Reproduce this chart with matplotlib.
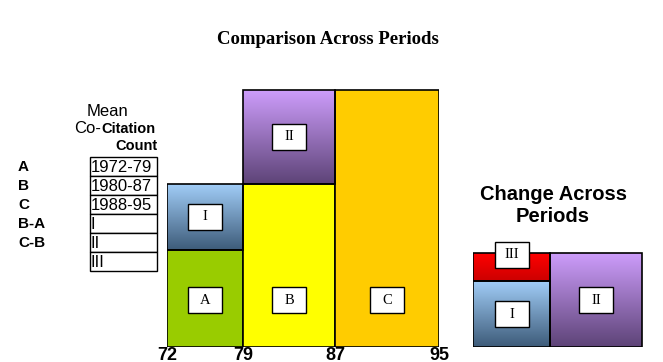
import matplotlib.pyplot as plt
import matplotlib.colors as mcolors
from matplotlib.patches import Rectangle
import numpy as np

# data
period_codes = ["A", "B", "C"]
period_years = ["1972-79", "1980-87", "1988-95"]
boundary_years = ["72", "79", "87", "95"]
mean_count = [97, 163, 257]          # A, B, C
change_codes = ["I", "II", "III"]    # B-A, C-B, II-I
legend_codes = ["A", "B", "C", "B-A", "C-B"]

# layout (pixels == data units)
W, H, DPI = 663, 362, 100
bar_w = [76, 92, 104]
base_px = 347
top_units = 260

SERIF = ["Liberation Serif", "DejaVu Serif"]
SANS = ["Liberation Sans", "DejaVu Sans"]


def grad_rect(ax, x0, x1, y0, y1, top, bottom):
    cmap = mcolors.LinearSegmentedColormap.from_list("g", [bottom, top])
    grad = np.linspace(1, 0, 64).reshape(-1, 1)
    ax.imshow(grad, cmap=cmap, extent=(x0, x1, y0, y1), aspect="auto",
              interpolation="bilinear", zorder=1)
    ax.add_patch(Rectangle((x0, y0), x1 - x0, y1 - y0, fill=False,
                           ec="black", lw=1.2, zorder=2))


def label_box(ax, x, y, s):
    ax.add_patch(Rectangle((x - 17, y - 13), 34, 26, fc="white", ec="black",
                           lw=1, zorder=3))
    ax.text(x, y, s, ha="center", va="center", family=SERIF, fontsize=10.5,
            zorder=4)


def make_ax(fig, left_px, width_px):
    ax = fig.add_axes([left_px / W, (H - base_px) / H, width_px / W,
                       top_units / H])
    ax.set_xlim(0, width_px)
    ax.set_ylim(0, top_units)
    ax.axis("off")
    return ax


def draw_main(fig):
    ax = make_ax(fig, 167, sum(bar_w))
    edges = np.concatenate([[0], np.cumsum(bar_w)])
    lefts = edges[:-1]
    cent = lefts + np.array(bar_w) / 2
    a, b, c = mean_count

    ax.bar(lefts, mean_count, width=bar_w, align="edge",
           color=["#99CC00", "#FFFF00", "#FFCC00"], edgecolor="black",
           lw=1.2, zorder=1.5)
    grad_rect(ax, edges[0], edges[1], a, b, "#A0CCF6", "#3E5C7A")
    grad_rect(ax, edges[1], edges[2], b, c, "#CC9CFA", "#5E4478")

    for x, s in zip(cent, period_codes):
        label_box(ax, x, 47, s)
    label_box(ax, cent[0], (a + b) / 2, change_codes[0])
    label_box(ax, cent[1], (b + c) / 2, change_codes[1])

    for x, s in zip(edges, boundary_years):
        ax.text(x, -13.5, s, ha="center", va="baseline", family=SANS,
                fontweight="bold", fontsize=13, clip_on=False)


def draw_change(fig):
    ax = make_ax(fig, 473, bar_w[0] + bar_w[1] + 2)
    a, b, c = mean_count
    d1, d2 = b - a, c - b
    x1 = bar_w[0] + 1
    x2 = x1 + bar_w[1]
    grad_rect(ax, 0, x1, 0, d1, "#A0CCF6", "#3E5C7A")
    grad_rect(ax, 0, x1, d1, d2, "#FF0000", "#CC0000")
    grad_rect(ax, x1, x2, 0, d2, "#CC9CFA", "#5E4478")
    label_box(ax, x1 / 2, d1 / 2, change_codes[0])
    label_box(ax, x1 / 2, d2 - 2, change_codes[2])
    label_box(ax, (x1 + x2) / 2, d2 / 2, change_codes[1])


def draw_legend(fig):
    ax = fig.add_axes([0, 0, 1, 1])
    ax.set_xlim(0, W)
    ax.set_ylim(H, 0)
    ax.axis("off")
    row_h = 19
    rows = period_years + change_codes
    for i, s in enumerate(rows):
        y = 157 + i * row_h
        ax.add_patch(Rectangle((90, y), 67, row_h, fc="white", ec="black",
                               lw=1))
        ax.text(91, y + row_h / 2 + 1, s, ha="left", va="center",
                family=SANS, fontsize=12)
    for i, s in enumerate(legend_codes):
        ax.text(18, 167 + i * row_h, s, ha="left", va="center", family=SANS,
                fontweight="bold", fontsize=11)

    ax.text(107, 111, "Mean", ha="center", va="center", family=SANS,
            fontsize=12)
    co = ax.text(74, 133, "Co-", ha="left", va="baseline", family=SANS,
                 fontsize=12)
    ax.annotate("Citation", xy=(1, 0), xycoords=co, ha="left",
                va="bottom", family=SANS, fontweight="bold", fontsize=10.5)
    ax.text(157, 146, "Count", ha="right", va="center", family=SANS,
            fontweight="bold", fontsize=10.5)

    ax.text(328, 40, "Comparison Across Periods", ha="center", va="center",
            family=SERIF, fontweight="bold", fontsize=13.5)
    ax.text(553, 205, "Change Across\nPeriods", ha="center", va="center",
            family=SANS, fontweight="bold", fontsize=14.5, linespacing=1.2)


def main():
    fig = plt.figure(figsize=(W / DPI, H / DPI), dpi=DPI)
    draw_main(fig)
    draw_change(fig)
    draw_legend(fig)
    fig.savefig("out.png", dpi=DPI)


if __name__ == "__main__":
    main()
